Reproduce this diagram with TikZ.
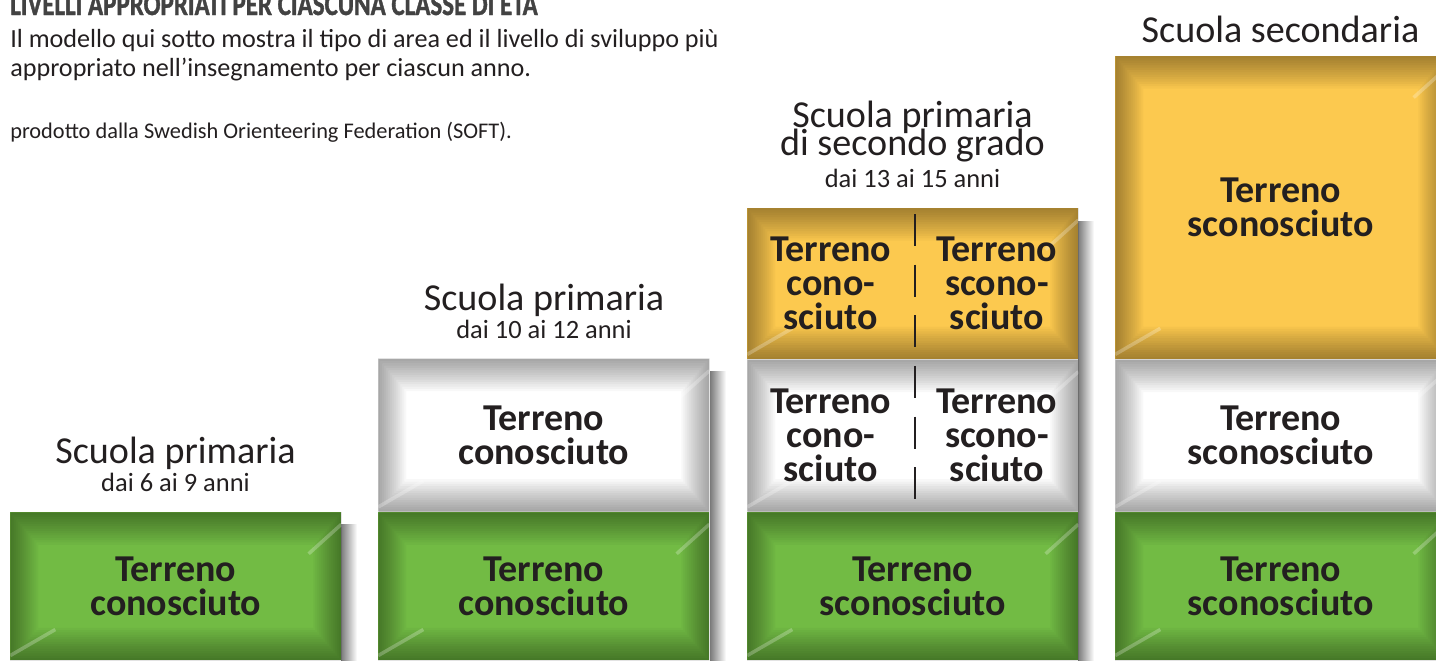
\documentclass[tikz,border=0pt]{standalone}
\usepackage{fontspec}
\setmainfont{Carlito}
\newfontfamily\titlefont{Carlito}[FakeStretch=0.78,FakeBold=1.2]
\usetikzlibrary{positioning}

\definecolor{ink}{RGB}{35,31,32}
\definecolor{slate}{RGB}{66,66,66}
\definecolor{leaf}{RGB}{114,187,68}
\definecolor{sand}{RGB}{252,201,79}
\definecolor{snow}{RGB}{255,255,255}

\newcommand\lab{\fontsize{27pt}{24.2pt}\selectfont\bfseries}
\newcommand\head{\fontsize{27.1pt}{19.9pt}\selectfont}
\newcommand\ages{\fontsize{18.8pt}{20pt}\selectfont}

\tikzset{
	tile/.style={fill=#1, minimum width=8.275cm, inner sep=0pt, text=ink, font=\lab, align=center,
		path picture={
			% darker rim, fading inwards
			\foreach \k in {1,...,14}
				\fill[black, opacity=.026, even odd rule] (path picture bounding box.south west) rectangle (path picture bounding box.north east)
					([xshift=\k*0.05cm, yshift=\k*0.058cm]path picture bounding box.south west) rectangle ([xshift=-\k*0.05cm, yshift=-\k*0.058cm]path picture bounding box.north east);
			\draw[white, opacity=.25, line width=2.5pt] ([yshift=-.3cm]path picture bounding box.north east) -- ++(222:1.1cm);
			\draw[white, opacity=.25, line width=2.5pt] ([yshift=.12cm]path picture bounding box.south west) -- ++(30:1.3cm);
		}},
	half/.style={text=ink, font=\lab, align=center, inner sep=0pt},
	head/.style={text=ink, font=\head, anchor=base, inner sep=0pt},
	ages/.style={text=ink, font=\ages, anchor=base, inner sep=0pt},
	drop/.style={left color=black!52, right color=white},
	divider/.style={ink, line width=1.4pt, dash pattern=on 22.8pt off 13.2pt}
}

\begin{document}
\begin{tikzpicture}[x=0.025cm, y=-0.025cm]
	\useasboundingbox (0,0) rectangle (1436,660);

	% intro text
	\node[anchor=base west, inner sep=0pt, text=slate, font=\titlefont\bfseries\fontsize{22.8pt}{24pt}\selectfont] (title) at (10,15) {LIVELLI APPROPRIATI PER CIASCUNA CLASSE DI ETÀ};
	\node[anchor=base west, inner sep=0pt, text=ink, align=left, font=\fontsize{18.6pt}{20.6pt}\selectfont] (intro) at (10,76) {Il modello qui sotto mostra il tipo di area ed il livello di sviluppo più\\appropriato nell’insegnamento per ciascun anno.};
	\node[anchor=base west, inner sep=0pt, text=ink, font=\fontsize{15.9pt}{17pt}\selectfont] (credit) at (10,138) {prodotto dalla Swedish Orienteering Federation (SOFT).};

	% shadows
	\shade[drop] (341,524) rectangle (357,660);
	\shade[drop] (710,371) rectangle (726,660);
	\shade[drop] (1078,221) rectangle (1094,660);

	% column 1
	\node[tile=leaf, minimum height=3.7cm, anchor=north west] (g1) at (10,512) {Terreno\\conosciuto};
	\node[head] (h1) at (175.5,463) {Scuola primaria};
	\node[ages] (a1) at (175.5,491) {dai 6 ai 9 anni};

	% column 2
	\node[tile=leaf, minimum height=3.7cm, anchor=north west] (g2) at (378,512) {Terreno\\conosciuto};
	\node[tile=snow, minimum height=3.825cm, above=0pt of g2] (w2) {Terreno\\conosciuto};
	\node[head] (h2) at (544,310) {Scuola primaria};
	\node[ages] (a2) at (544,338) {dai 10 ai 12 anni};

	% column 3
	\node[tile=leaf, minimum height=3.7cm, anchor=north west] (g3) at (747,512) {Terreno\\sconosciuto};
	\node[tile=snow, minimum height=3.8cm, above=0pt of g3] (w3) {};
	\node[tile=sand, minimum height=3.775cm, above=0pt of w3] (o3) {};
	\node[half] (o3l) at ([xshift=-2.05cm]o3.center) {Terreno\\cono-\\sciuto};
	\node[half] (o3r) at ([xshift=2.1cm]o3.center) {Terreno\\scono-\\sciuto};
	\node[half] (w3l) at ([xshift=-2.05cm]w3.center) {Terreno\\cono-\\sciuto};
	\node[half] (w3r) at ([xshift=2.1cm]w3.center) {Terreno\\scono-\\sciuto};
	\coordinate (d3top) at (915,214);
	\coordinate (d3bot) at (915,500);
	\draw[divider] (d3top) -- (d3bot);
	\node[head] (h3) at (912.5,127) {Scuola primaria};
	\node[head] (h3b) at (912.5,155) {di secondo grado};
	\node[ages] (a3) at (912.5,187) {dai 13 ai 15 anni};

	% column 4
	\node[tile=leaf, minimum height=3.7cm, anchor=north west] (g4) at (1115,512) {Terreno\\sconosciuto};
	\node[tile=snow, minimum height=3.8cm, above=0pt of g4] (w4) {Terreno\\sconosciuto};
	\node[tile=sand, minimum height=7.575cm, above=0pt of w4] (o4) {Terreno\\sconosciuto};
	\node[head] (h4) at (1280.5,42) {Scuola secondaria};
\end{tikzpicture}
\end{document}
